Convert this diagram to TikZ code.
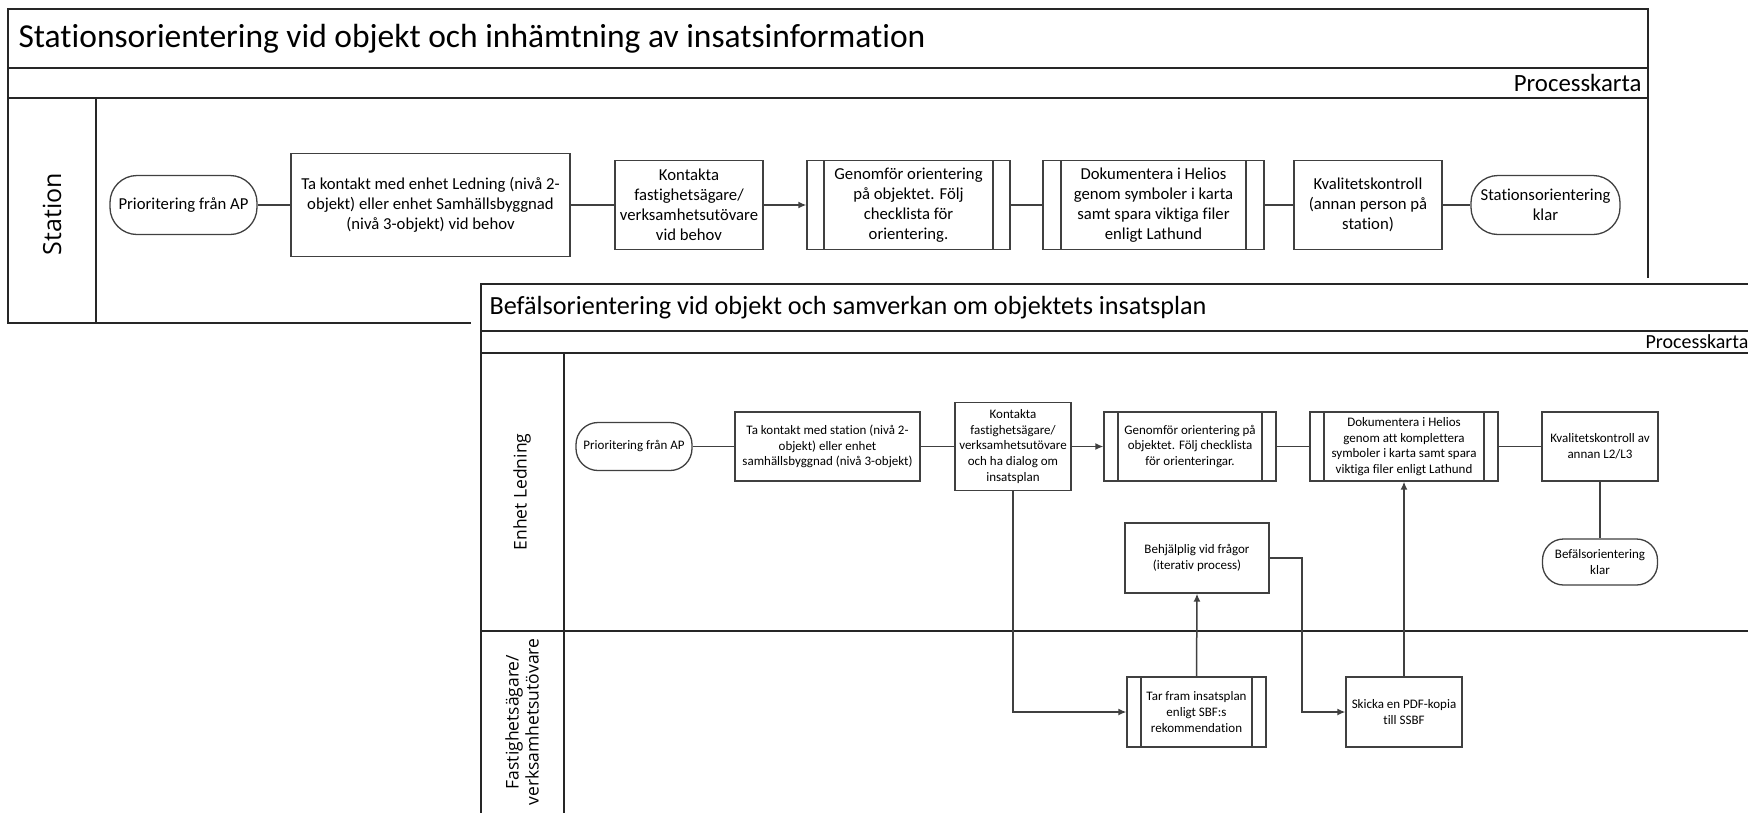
\documentclass[tikz,border=0pt]{standalone}
\usepackage{fontspec}
\setmainfont{Carlito}[Ligatures=NoCommon]
\newfontfamily\lanefont{Open Sans}
\usetikzlibrary{arrows.meta}
\tikzset{
	frame/.style={line width=2pt,black!85},
	box/.style={draw=black!75,line width=1.3pt,fill=white,align=center,inner sep=0pt},
	boxa/.style={box,font=\fontsize{16.7}{20}\selectfont},
	boxb/.style={box,font=\fontsize{13}{15.6}\selectfont},
	subproc/.style={path picture={
		\draw[black!75,line width=1.3pt] ([xshift=#1]path picture bounding box.north west) -- ([xshift=#1]path picture bounding box.south west)
			([xshift=-#1]path picture bounding box.north east) -- ([xshift=-#1]path picture bounding box.south east);}},
	conn/.style={draw=black!75,line width=1.5pt},
	arr/.style={conn,-{Latex[length=8pt,width=7pt]}},
}
\begin{document}
\begin{tikzpicture}[x=1pt,y=-1pt]
	\clip (0,0) rectangle (1748,812);
	\fill[white] (0,0) rectangle (1748,812);

	% Stationsorientering
	\draw[frame] (8,9) rectangle (1648,323);
	\draw[frame] (8,68) -- (1648,68) (8,98) -- (1648,98) (96,98) -- (96,323);
	\node[anchor=west,font=\fontsize{33.5}{40}\selectfont] (titleA) at (15,38.5) {Stationsorientering vid objekt och inhämtning av insatsinformation};
	\node[anchor=east,font=\fontsize{24.8}{30}\selectfont] (mapA) at (1645,83) {Processkarta};
	\node[rotate=90,font=\lanefont\fontsize{25}{30}\selectfont] (station) at (52,214) {Station};

	\node[boxa,rounded corners=27pt,minimum width=147pt,minimum height=59pt] (p1) at (183.5,205) {Prioritering från AP};
	\node[boxa,minimum width=279pt,minimum height=103pt] (t1) at (430.5,205) {Ta kontakt med enhet Ledning (nivå 2-\\objekt) eller enhet Samhällsbyggnad\\(nivå 3-objekt) vid behov};
	\node[boxa,minimum width=148pt,minimum height=89pt] (k1) at (689,205) {Kontakta\\fastighetsägare/\\verksamhetsutövare\\vid behov};
	\node[boxa,subproc=17pt,minimum width=203pt,minimum height=89pt] (g1) at (908.5,205) {Genomför orientering\\på objektet. Följ\\checklista för\\orientering.};
	\node[boxa,subproc=18pt,minimum width=221pt,minimum height=89pt] (d1) at (1153.5,205) {Dokumentera i Helios\\genom symboler i karta\\samt spara viktiga filer\\enligt Lathund};
	\node[boxa,minimum width=148pt,minimum height=89pt] (q1) at (1368,205) {Kvalitetskontroll\\(annan person på\\station)};
	\node[boxa,rounded corners=27pt,minimum width=149pt,minimum height=59pt] (s1) at (1545.5,205) {Stationsorientering\\klar};

	\draw[conn] (p1) -- (t1);
	\draw[conn] (t1) -- (k1);
	\draw[arr] (k1) -- (g1);
	\draw[conn] (g1) -- (d1);
	\draw[conn] (d1) -- (q1);
	\draw[conn] (q1) -- (s1);

	% Befalsorientering
	\fill[white] (471,278) rectangle (1760,820);
	\draw[frame] (1760,284) -- (481,284) -- (481,820);
	\draw[frame] (481,331) -- (1760,331) (481,353) -- (1760,353) (564,353) -- (564,820) (481,631) -- (1760,631);
	\node[anchor=west,font=\fontsize{26.2}{32}\selectfont] (titleB) at (486,307.5) {Befälsorientering vid objekt och samverkan om objektets insatsplan};
	\node[anchor=west,font=\fontsize{20}{24}\selectfont] (mapB) at (1642,342) {Processkarta};
	\node[rotate=90,font=\lanefont\fontsize{17.5}{21}\selectfont] (ledning) at (522,492) {Enhet Ledning};
	\node[rotate=90,align=center,font=\lanefont\fontsize{17.5}{20}\selectfont] (agare) at (522,722) {Fastighetsägare/\\verksamhetsutövare};

	\node[boxb,rounded corners=22pt,minimum width=116pt,minimum height=48pt] (p2) at (634,446.5) {Prioritering från AP};
	\node[boxb,minimum width=185pt,minimum height=69pt] (t2) at (827.5,446.5) {Ta kontakt med station (nivå 2-\\objekt) eller enhet\\samhällsbyggnad (nivå 3-objekt)};
	\node[boxb,minimum width=116pt,minimum height=88pt] (k2) at (1013,446.5) {Kontakta\\fastighetsägare/\\verksamhetsutövare\\och ha dialog om\\insatsplan};
	\node[boxb,subproc=14pt,minimum width=172pt,minimum height=69pt] (g2) at (1190,446.5) {Genomför orientering på\\objektet. Följ checklista\\för orienteringar.};
	\node[boxb,subproc=14pt,minimum width=188pt,minimum height=69pt] (d2) at (1404,446.5) {Dokumentera i Helios\\genom att komplettera\\symboler i karta samt spara\\viktiga filer enligt Lathund};
	\node[boxb,minimum width=116pt,minimum height=69pt] (q2) at (1600,446.5) {Kvalitetskontroll av\\annan L2/L3};
	\node[boxb,rounded corners=21pt,minimum width=115pt,minimum height=46pt] (e2) at (1600,562) {Befälsorientering\\klar};
	\node[boxb,minimum width=144pt,minimum height=70pt] (b2) at (1197,558) {Behjälplig vid frågor\\(iterativ process)};
	\node[boxb,subproc=14pt,minimum width=139pt,minimum height=70pt] (tf) at (1196.5,712) {Tar fram insatsplan\\enligt SBF:s\\rekommendation};
	\node[boxb,minimum width=116pt,minimum height=70pt] (sk) at (1404,712) {Skicka en PDF-kopia\\till SSBF};
	\coordinate (bend) at (1302,558);

	\draw[conn] (p2) -- (t2);
	\draw[conn] (t2) -- (k2);
	\draw[arr] (k2) -- (g2);
	\draw[conn] (g2) -- (d2);
	\draw[conn] (d2) -- (q2);
	\draw[conn] (q2) -- (e2);
	\draw[arr] (k2.south) |- (tf.west);
	\draw[arr] (tf.north) -- (b2.south);
	\draw[arr] (b2.east) -- (bend) |- (sk.west);
	\draw[arr] (sk.north) -- (d2.south);
\end{tikzpicture}
\end{document}
